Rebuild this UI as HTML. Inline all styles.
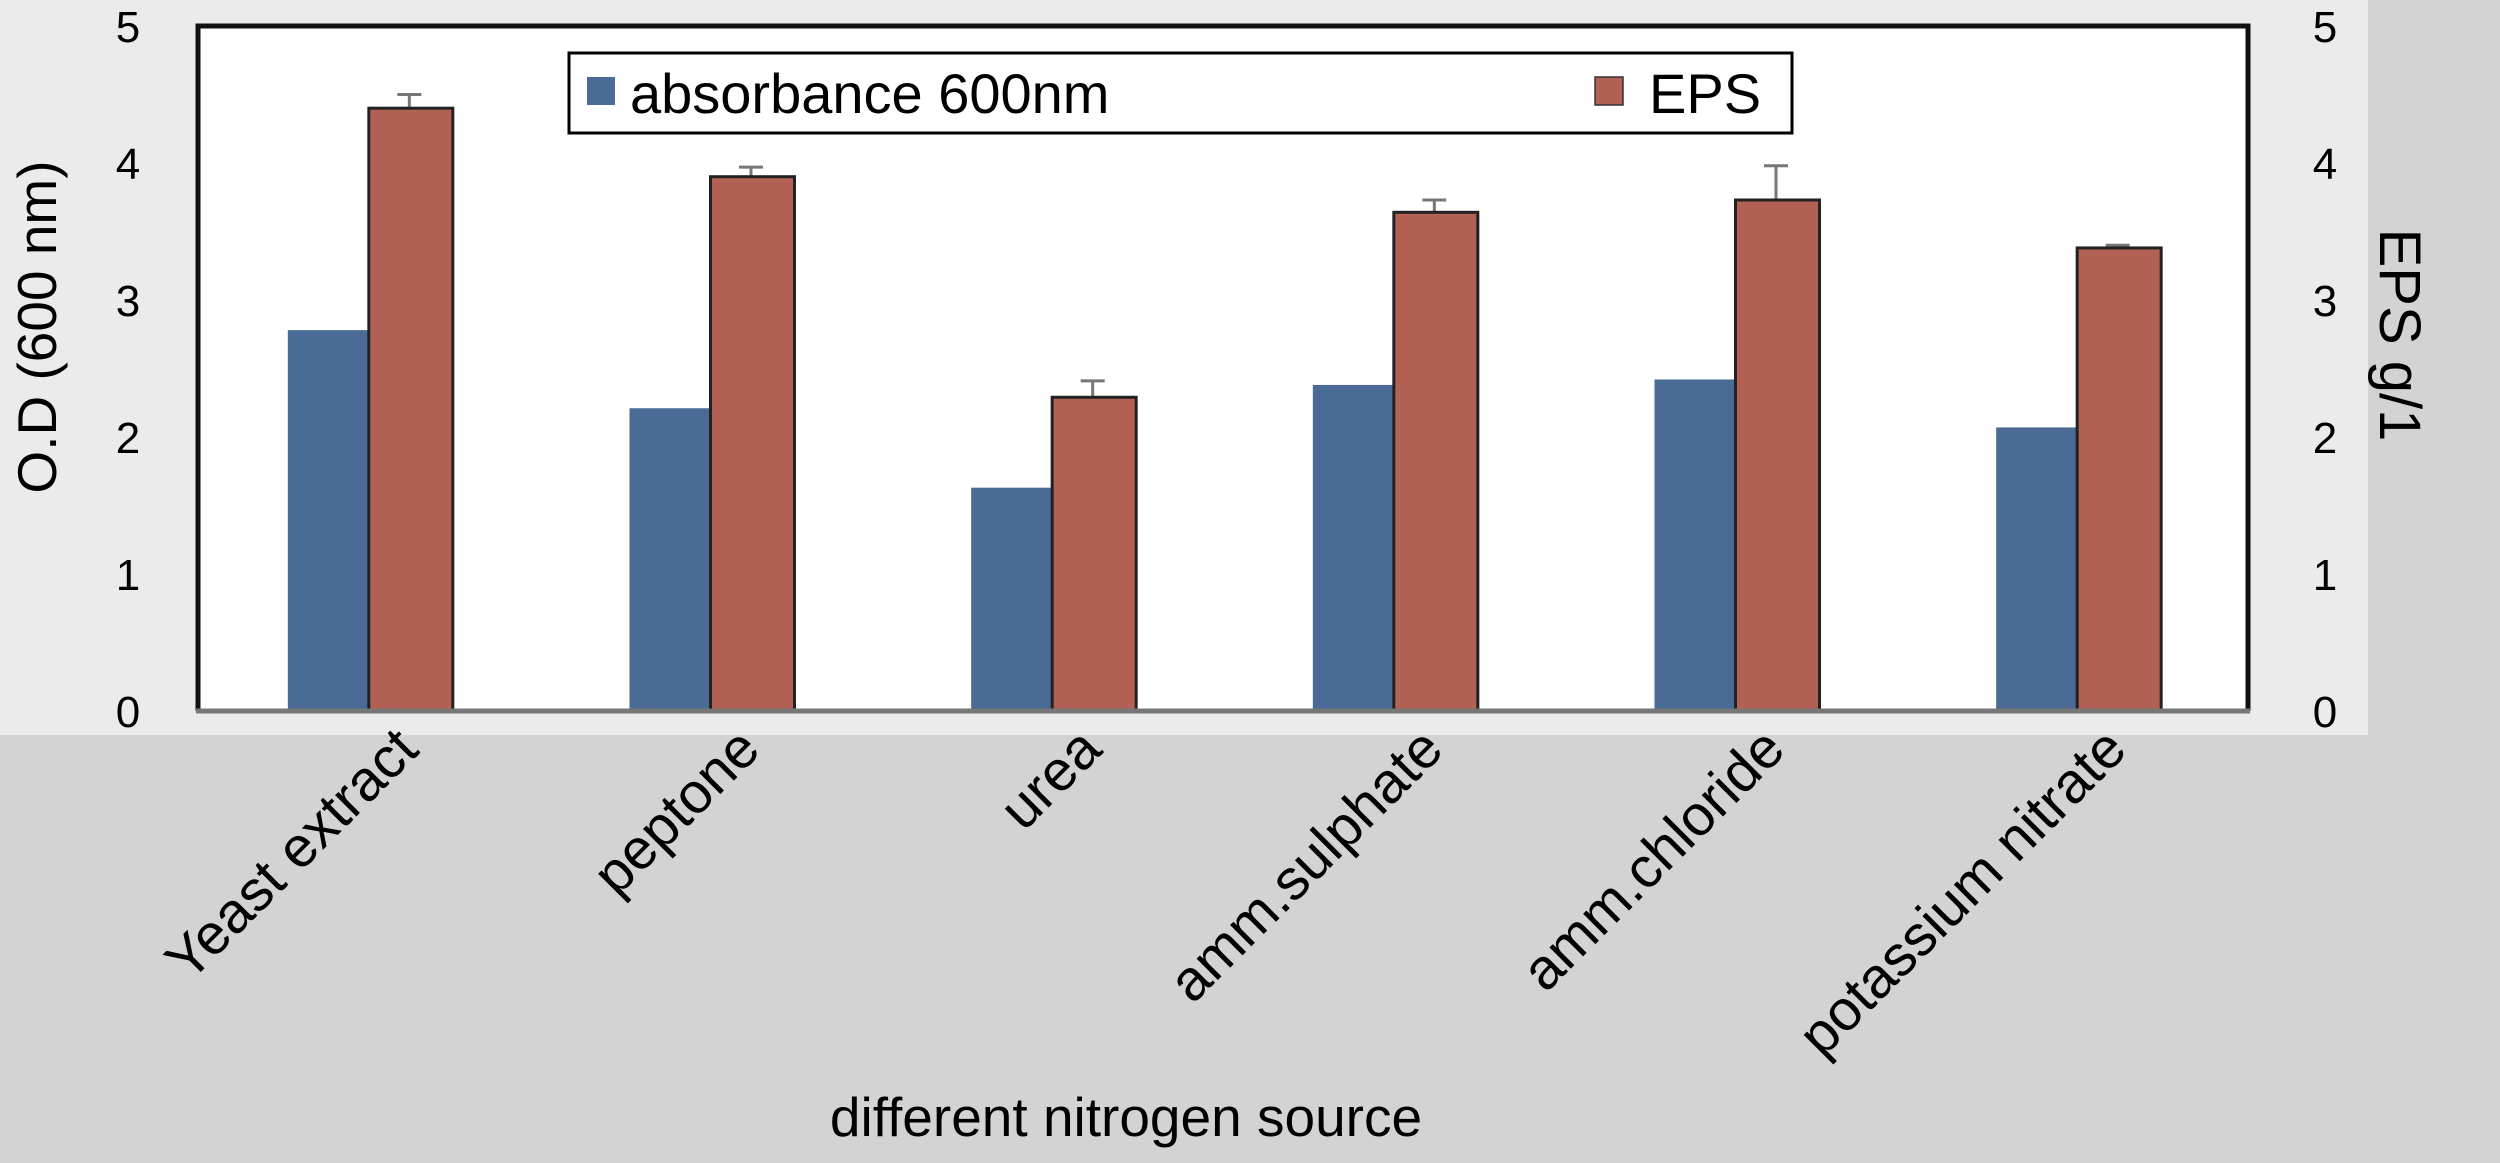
<!DOCTYPE html>
<html><head><meta charset="utf-8"><style>
html,body{margin:0;padding:0;background:#d3d3d3;}
svg{display:block;font-family:"Liberation Sans",Arial,sans-serif;}
</style></head><body>
<svg id="chart" width="2500" height="1163" viewBox="0 0 2500 1163" xmlns="http://www.w3.org/2000/svg">
<rect x="0" y="0" width="2500" height="1163" fill="#d3d3d3"/>
<rect x="0" y="0" width="2368" height="735" fill="#ebebeb"/>
<rect x="198" y="26" width="2050" height="685" fill="#ffffff"/>
<g id="bars"></g>
<path d="M198,711 V26 H2248 V711" fill="none" stroke="#111" stroke-width="5"/>
<line x1="196" y1="711" x2="2250" y2="711" stroke="#777" stroke-width="5"/>
<g id="ticks" font-size="44" fill="#000"></g>
<text x="0" y="0" transform="translate(56,327) rotate(-90)" text-anchor="middle" font-size="55">O.D (600 nm)</text>
<text x="0" y="0" transform="translate(2380,335) rotate(90)" text-anchor="middle" font-size="58">EPS g/1</text>
<text x="1126" y="1136" text-anchor="middle" font-size="55">different nitrogen source</text>
<g>
<rect x="569" y="53" width="1223" height="80" fill="#fff" stroke="#000" stroke-width="3"/>
<rect x="587" y="77" width="28" height="28" fill="#4a6b96"/>
<text x="630" y="113" font-size="56">absorbance 600nm</text>
<rect x="1595" y="77" width="28" height="28" fill="#b46155" stroke="#333" stroke-width="1.5"/>
<text x="1649" y="113" font-size="56">EPS</text>
</g>
</svg>
<script>
const categories = ["Yeast extract","peptone","urea","amm.sulphate","amm.chloride","potassium nitrate"];
const absorbance = [2.78, 2.21, 1.63, 2.38, 2.42, 2.07];
const eps = [4.40, 3.90, 2.29, 3.64, 3.73, 3.38];
const epsErr = [0.10, 0.07, 0.12, 0.09, 0.25, 0.02];
const yTicks = [0, 1, 2, 3, 4, 5];

const NS = "http://www.w3.org/2000/svg";
const L = 198, R = 2248, T = 26, B = 711, YMAX = 5;
const y = v => B - (v / YMAX) * (B - T);
const band = (R - L) / categories.length;
const cx = i => L + band * (i + 0.5);
const bw = 81;
function mk(tag, attrs, parent) {
  const e = document.createElementNS(NS, tag);
  for (const k in attrs) e.setAttribute(k, attrs[k]);
  parent.appendChild(e);
  return e;
}
const bars = document.getElementById('bars');
const ticks = document.getElementById('ticks');
const svg = document.getElementById('chart');
categories.forEach((c, i) => {
  const x0 = cx(i);
  const b = mk('rect', {x: x0 - bw, y: y(absorbance[i]), width: bw, height: B - y(absorbance[i]), fill: '#4a6b96'}, bars);
  
  
  const e = mk('line', {x1: x0 + bw / 2, x2: x0 + bw / 2, y1: y(eps[i]), y2: y(eps[i] + epsErr[i]), stroke: '#777', 'stroke-width': 3}, bars);
  
  
  const ec = mk('line', {x1: x0 + bw / 2 - 12, x2: x0 + bw / 2 + 12, y1: y(eps[i] + epsErr[i]), y2: y(eps[i] + epsErr[i]), stroke: '#777', 'stroke-width': 3}, bars);
  
  
  const r = mk('rect', {x: x0, y: y(eps[i]), width: bw + 3, height: B - y(eps[i]), fill: '#b46155', stroke: '#222', 'stroke-width': 3}, bars);
  
  
  const t = mk('text', {x: 0, y: 0, transform: `translate(${x0 + 52},${752}) rotate(-45)`, 'text-anchor': 'end', 'font-size': 57}, svg);
  t.textContent = c;
  
  
});
yTicks.forEach(v => {
  const a = mk('text', {x: 128, y: y(v) + 16, 'text-anchor': 'middle'}, ticks);
  a.textContent = v;
  
  
  const b = mk('text', {x: 2325, y: y(v) + 16, 'text-anchor': 'middle'}, ticks);
  b.textContent = v;
  
  
});
</script>
</body></html>
